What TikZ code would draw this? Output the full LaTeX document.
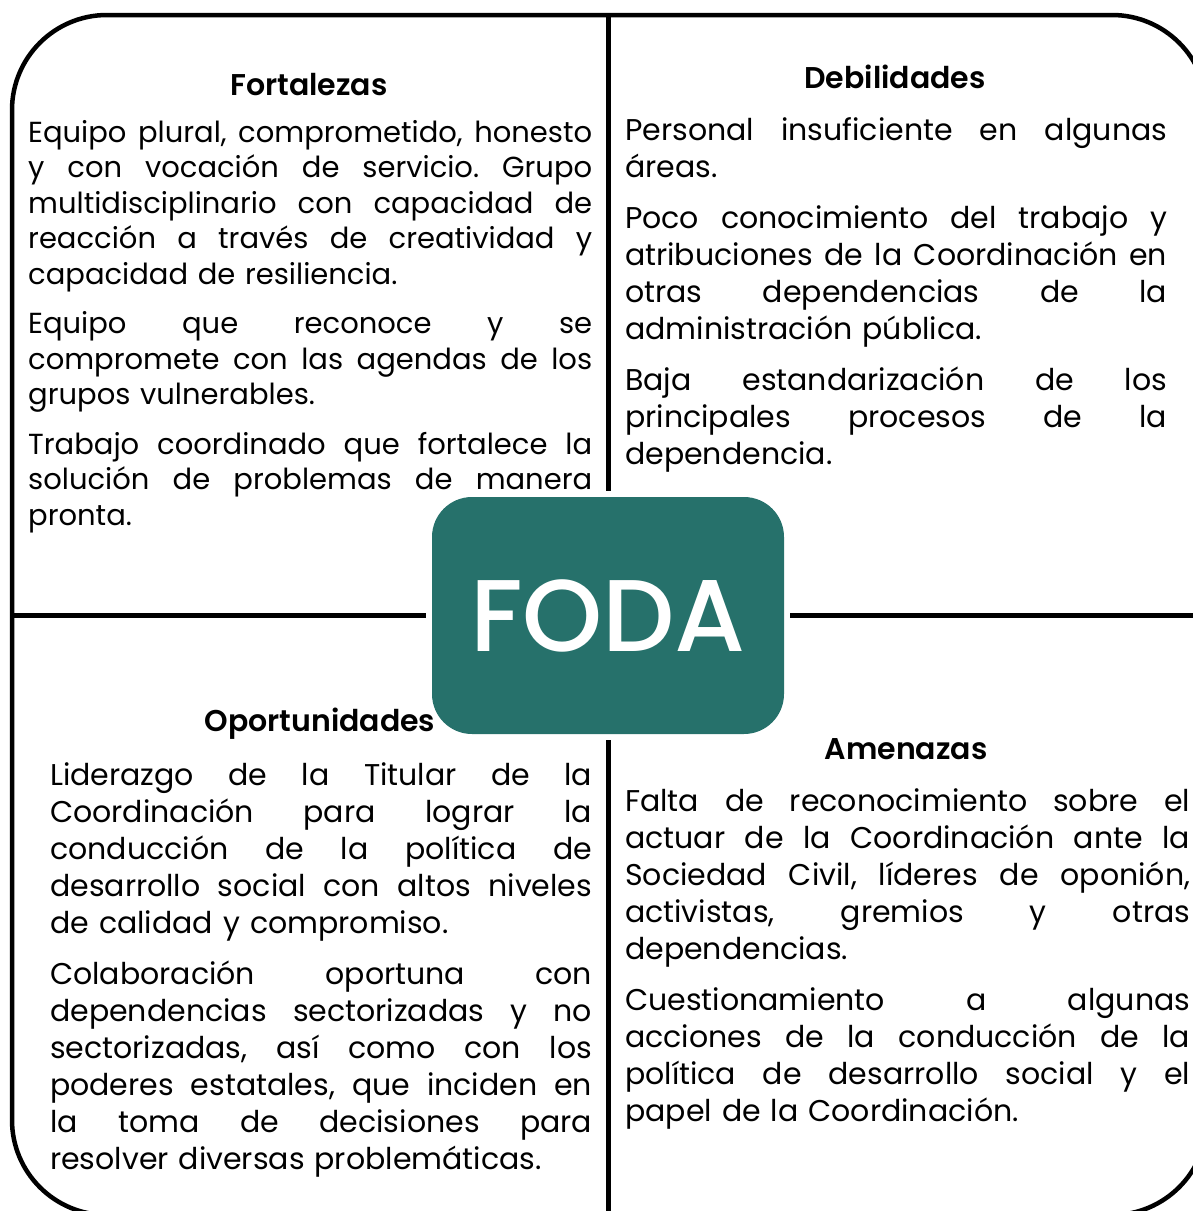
\documentclass[tikz,border=0pt]{standalone}
\usepackage{fontspec}
\IfFontExistsTF{Poppins SemiBold}
  {\setmainfont{Poppins}[BoldFont={Poppins SemiBold}]}
  {\setmainfont{Poppins}}
\IfFontExistsTF{Poppins Medium}
  {\newfontfamily\fodafont{Poppins Medium}}
  {\newfontfamily\fodafont{Poppins}}
\usepackage{tikz}
\usetikzlibrary{positioning}

\definecolor{fodaverde}{HTML}{26716B}
\hbadness=10000
\frenchspacing
\newcommand{\jl}[1]{\makebox[\hsize][s]{\frenchspacing\spaceskip=\fontdimen2\font plus 1fil\relax\strut #1}\\}
\newcommand{\ul}[1]{\strut #1}

\begin{document}
\begin{tikzpicture}[
        x=1pt, y=-1pt,
        marco/.style={
            line width=4.5pt,
            rounded corners=95pt
        },
        divisor/.style={
            line width=5pt,
            shorten >=6pt
        },
        titulo/.style={
            anchor=base,
            inner sep=0pt,
            font=\fontsize{30}{34}\selectfont\bfseries
        },
        bloque/.style={
            anchor=north west,
            inner sep=0pt,
            font=\fontsize{30}{37}\selectfont
        },
        sello/.style={
            fill=fodaverde,
            rounded corners=40pt,
            minimum width=352pt,
            minimum height=237pt,
            inner sep=0pt,
            text=white,
            font=\fontsize{102}{102}\fodafont
        }
    ]

    \useasboundingbox (0,0) rectangle (1193,1211);

    \draw[marco] (12,15) rectangle (1207,1215);

    \node[titulo] (fortTit) at (309,95) {Fortalezas};
    \node[bloque, text width=564pt, font=\fontsize{29}{35.5}\selectfont] (fort) at (28,117)
    {\jl{Equipo plural, comprometido, honesto}
     \jl{y con vocación de servicio. Grupo}
     \jl{multidisciplinario con capacidad de}
     \jl{reacción a través de creatividad y}
     \ul{capacidad de resiliencia.}\\[14pt]
     \jl{Equipo que reconoce y se}
     \jl{compromete con las agendas de los}
     \ul{grupos vulnerables.}\\[14pt]
     \jl{Trabajo coordinado que fortalece la}
     \jl{solución de problemas de manera}
     \ul{pronta.}};

    \node[titulo] (debilTit) at (895,88) {Debilidades};
    \node[bloque, text width=542pt] (debil) at (625,114)
    {\jl{Personal insuficiente en algunas}
     \ul{áreas.}\\[14pt]
     \jl{Poco conocimiento del trabajo y}
     \jl{atribuciones de la Coordinación en}
     \jl{otras dependencias de la}
     \ul{administración pública.}\\[14pt]
     \jl{Baja estandarización de los}
     \jl{principales procesos de la}
     \ul{dependencia.}};

    \node[titulo] (oportTit) at (320,731) {Oportunidades};
    \node[bloque, text width=542pt] (oport) at (50,759)
    {\jl{Liderazgo de la Titular de la}
     \jl{Coordinación para lograr la}
     \jl{conducción de la política de}
     \jl{desarrollo social con altos niveles}
     \ul{de calidad y compromiso.}\\[14pt]
     \jl{Colaboración oportuna con}
     \jl{dependencias sectorizadas y no}
     \jl{sectorizadas, así como con los}
     \jl{poderes estatales, que inciden en}
     \jl{la toma de decisiones para}
     \ul{resolver diversas problemáticas.}};

    \node[titulo] (amenTit) at (906,759) {Amenazas};
    \node[bloque, text width=565pt] (amen) at (625,785)
    {\jl{Falta de reconocimiento sobre el}
     \jl{actuar de la Coordinación ante la}
     \jl{Sociedad Civil, líderes de oponión,}
     \jl{activistas, gremios y otras}
     \ul{dependencias.}\\[14pt]
     \jl{Cuestionamiento a algunas}
     \jl{acciones de la conducción de la}
     \jl{política de desarrollo social y el}
     \ul{papel de la Coordinación.}};

    \node[sello] (foda) at (608,615.5) {FODA};

    \coordinate (arriba) at (608,15);
    \coordinate (abajo) at (608,1215);
    \coordinate (izq) at (12,615.5);
    \coordinate (der) at (1207,615.5);

    \draw[divisor] (arriba) -- (foda);
    \draw[divisor] (abajo) -- (foda);
    \draw[divisor] (izq) -- (foda);
    \draw[divisor] (der) -- (foda);

\end{tikzpicture}
\end{document}
